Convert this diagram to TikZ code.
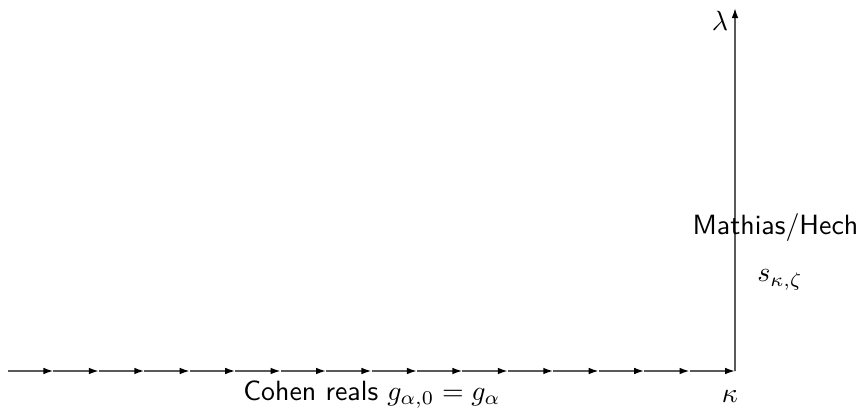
\documentclass[tikz,border=0pt]{standalone}
\usepackage{amsmath,amssymb}
\usepackage{tikz}
\usetikzlibrary{calc,arrows.meta,positioning}
\definecolor{axisgray}{RGB}{90,90,90}

\begin{document}
\begin{tikzpicture}[x=0.01262cm,y=0.01262cm,
    axis/.style={axisgray, line width=0.6pt},
    seg/.style={axis, -{Latex[length=3.6pt,width=2.4pt,black]}},
    lbl/.style={inner sep=0pt, font=\sffamily}]
    \useasboundingbox (0,0) rectangle (856,413);

    % points along the kappa axis
    \foreach \i in {0,...,16}
        \coordinate (c\i) at ({8+\i*45.44},42);
    \coordinate (top) at (735,405);

    % kappa axis, one arrow per step
    \foreach \i [evaluate=\i as \j using int(\i+1)] in {0,...,15}
        \draw[seg] (c\i) -- (c\j);

    % lambda axis
    \draw[seg] (c16) -- (top);

    % labels
    \node[lbl] (lam) at (720,392) {$\lambda$};
    \node[lbl, anchor=base] (kap) at (730,11) {$\kappa$};
    \node[lbl, anchor=base] (cohen) at (372,13) {Cohen reals $g_{\alpha,0}=g_\alpha$};
    \node[lbl, anchor=base west] (mathias) at (692,178) {Mathias/Hech};
    \node[lbl, anchor=base] (skz) at (780,131) {$s_{\kappa,\zeta}$};
\end{tikzpicture}
\end{document}
